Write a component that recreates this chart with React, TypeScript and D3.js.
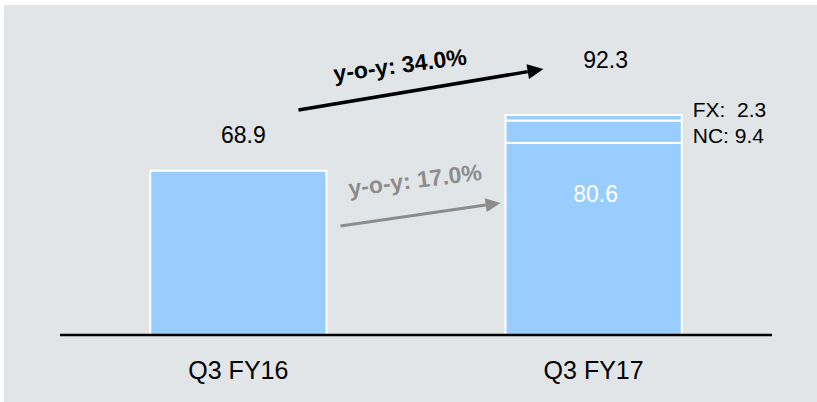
import React, { useEffect, useRef } from "react";
import * as d3 from "d3";

// chart data
const categories = ["Q3 FY16", "Q3 FY17"];
const baseValues = [68.9, 80.6];
const ncValues = [0, 9.4];
const fxValues = [0, 2.3];
const totalValues = [68.9, 92.3];
const growthLabels = ["y-o-y: 34.0%", "y-o-y: 17.0%"];

const App: React.FC = () => {
  const svgRef = useRef<SVGSVGElement>(null);
  const width = 817;
  const height = 402;

  useEffect(() => {
    if (!svgRef.current) return;
    const svg = d3.select(svgRef.current);
    svg.selectAll("*").remove();

    const font = "'Liberation Sans', Arial, sans-serif";

    // background panel
    svg
      .append("rect")
      .attr("x", 4)
      .attr("y", 5)
      .attr("width", width - 4)
      .attr("height", height - 5)
      .attr("fill", "#e2e5e8");

    const x = d3
      .scaleBand<string>()
      .domain(categories)
      .range([60, 772])
      .paddingInner(0.504)
      .paddingOuter(0.254);

    const y = d3.scaleLinear().domain([0, 92.3]).range([335, 115]);

    const rows = categories.map((c, i) => ({
      cat: c,
      base: baseValues[i],
      nc: ncValues[i],
      fx: fxValues[i],
    }));

    const stack = d3.stack<any>().keys(["base", "nc", "fx"]);
    const series = stack(rows);

    const g = svg.append("g");

    series.forEach((s) => {
      g.selectAll(null)
        .data(s.filter((d) => d[1] - d[0] > 0))
        .join("rect")
        .attr("x", (d) => x(d.data.cat)!)
        .attr("y", (d) => y(d[1]))
        .attr("width", x.bandwidth())
        .attr("height", (d) => y(d[0]) - y(d[1]))
        .attr("fill", "#99ccff")
        .attr("stroke", "white")
        .attr("stroke-width", 2);
    });

    // baseline
    g.append("line")
      .attr("x1", 60)
      .attr("x2", 772)
      .attr("y1", y(0))
      .attr("y2", y(0))
      .attr("stroke", "#000")
      .attr("stroke-width", 2.5);

    // category labels
    g.selectAll(null)
      .data(categories)
      .join("text")
      .attr("x", (d) => x(d)! + x.bandwidth() / 2)
      .attr("y", 379)
      .attr("text-anchor", "middle")
      .attr("font-family", font)
      .attr("font-size", 25)
      .attr("fill", "#000")
      .text((d) => d);

    // totals
    const totalOffsets = [
      { dx: 5, dy: -28 },
      { dx: 12, dy: -47 },
    ];
    g.selectAll(null)
      .data(totalValues)
      .join("text")
      .attr("x", (d, i) => x(categories[i])! + x.bandwidth() / 2 + totalOffsets[i].dx)
      .attr("y", (d, i) => y(d) + totalOffsets[i].dy)
      .attr("text-anchor", "middle")
      .attr("font-family", font)
      .attr("font-size", 23)
      .attr("fill", "#000")
      .text((d) => d3.format(".1f")(d));

    // inner label on base segment of FY17
    const c2 = categories[1];
    g.append("text")
      .attr("x", x(c2)! + x.bandwidth() / 2 + 2)
      .attr("y", y(baseValues[1]) + 59)
      .attr("text-anchor", "middle")
      .attr("font-family", font)
      .attr("font-size", 23)
      .attr("fill", "#fff")
      .text(d3.format(".1f")(baseValues[1]));

    // NC / FX labels
    const labX = x(c2)! + x.bandwidth() + 11;
    const ncMid = y(baseValues[1] + ncValues[1] / 2);
    g.append("text")
      .attr("x", labX)
      .attr("y", ncMid + 11)
      .attr("font-family", font)
      .attr("font-size", 21)
      .attr("fill", "#000")
      .text(`NC: ${ncValues[1]}`);
    g.append("text")
      .attr("x", labX)
      .attr("y", ncMid - 15)
      .attr("font-family", font)
      .attr("font-size", 21)
      .attr("fill", "#000")
      .attr("xml:space", "preserve")
      .style("white-space", "pre")
      .text(`FX:  ${fxValues[1]}`);

    // growth arrows
    const bar1Right = x(categories[0])! + x.bandwidth();
    const bar2Left = x(c2)!;
    const arrows = [
      {
        x1: bar1Right - 28, v1: 94.4, x2: bar2Left + 38, v2: 111.6,
        color: "#000", w: 3.5, head: 16, half: 7.5,
        label: growthLabels[0], lx: 401, ly: 73, rot: -7.5,
      },
      {
        x1: bar1Right + 14, v1: 45.7, x2: bar2Left - 5, v2: 55.4,
        color: "#8c8c8c", w: 3, head: 15, half: 7,
        label: growthLabels[1], lx: 416, ly: 188, rot: -7,
      },
    ];

    arrows.forEach((a) => {
      const X1 = a.x1, Y1 = y(a.v1), X2 = a.x2, Y2 = y(a.v2);
      const ang = Math.atan2(Y2 - Y1, X2 - X1);
      const bx = X2 - a.head * Math.cos(ang);
      const by = Y2 - a.head * Math.sin(ang);
      g.append("line")
        .attr("x1", X1)
        .attr("y1", Y1)
        .attr("x2", bx)
        .attr("y2", by)
        .attr("stroke", a.color)
        .attr("stroke-width", a.w);
      const px = -Math.sin(ang) * a.half;
      const py = Math.cos(ang) * a.half;
      g.append("path")
        .attr("d", `M${X2},${Y2}L${bx + px},${by + py}L${bx - px},${by - py}Z`)
        .attr("fill", a.color);
      g.append("text")
        .attr("transform", `translate(${a.lx},${a.ly}) rotate(${a.rot})`)
        .attr("text-anchor", "middle")
        .attr("font-family", font)
        .attr("font-weight", "bold")
        .attr("font-size", 23)
        .attr("fill", a.color)
        .text(a.label);
    });
  }, []);

  return (
    <svg
      ref={svgRef}
      width={width}
      height={height}
      style={{ position: "absolute", left: 0, top: 0, background: "#fff" }}
    />
  );
};

export default App;
